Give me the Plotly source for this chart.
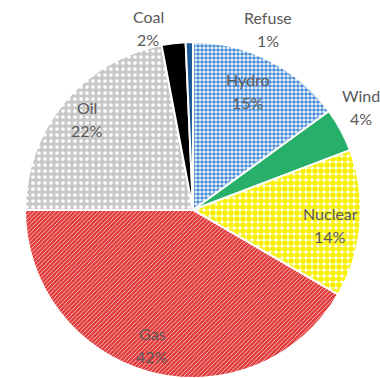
import plotly.graph_objects as go

labels = ["Hydro", "Wind", "Nuclear", "Gas", "Oil", "Coal", "Refuse"]
values = [15.0, 4.2, 14.2, 41.6, 22.0, 2.3, 0.7]

# label placement (layout only): centre of the two-line label, in pixels from top-left
W, H = 380, 378
label_pos = {
    "Hydro": (248, 91), "Wind": (361, 107), "Nuclear": (330, 225),
    "Gas": (152, 345), "Oil": (87, 119), "Coal": (148, 28), "Refuse": (268, 29),
}
LINE_GAP = 23

bg_colors = ["#ffffff", "#27b06a", "#ffffff", "#e23a3a", "#c8c8c8", "#000000", "#1f5b99"]
fg_colors = ["#4a8ed6", "#27b06a", "#f7f000", "#ffffff", "#ffffff", "#000000", "#1f5b99"]
shapes = [".", "", ".", "/", ".", "", ""]
sizes = [4, 4, 6, 3, 6, 4, 4]
solidities = [0.65, 0.3, 0.7, 0.22, 0.3, 0.3, 0.3]

total = sum(values)
pct = [round(v / total * 100) for v in values]

fig = go.Figure(go.Pie(
    labels=labels,
    values=values,
    sort=False,
    direction="clockwise",
    rotation=0,
    textinfo="none",
    marker=dict(
        colors=bg_colors,
        line=dict(color="#ffffff", width=2),
        pattern=dict(shape=shapes, fgcolor=fg_colors, bgcolor=bg_colors,
                     size=sizes, solidity=solidities, fillmode="replace"),
    ),
    domain=dict(x=[0.0658, 0.95], y=[0.0, 0.889]),
    showlegend=False,
    hoverinfo="skip",
))

font = dict(family="Lato", size=16, color="#595959")
for l, p in zip(labels, pct):
    cx, cy = label_pos[l]
    for txt, dy in ((l, -LINE_GAP / 2), (f"{p}%", LINE_GAP / 2)):
        fig.add_annotation(x=cx / W, y=1 - (cy + dy) / H, xref="paper", yref="paper",
                           text=txt, showarrow=False,
                           xanchor="center", yanchor="middle", font=font)

fig.update_layout(
    width=W, height=H,
    margin=dict(l=0, r=0, t=0, b=0),
    paper_bgcolor="#ffffff",
    plot_bgcolor="#ffffff",
)

fig.write_html("out.html")
